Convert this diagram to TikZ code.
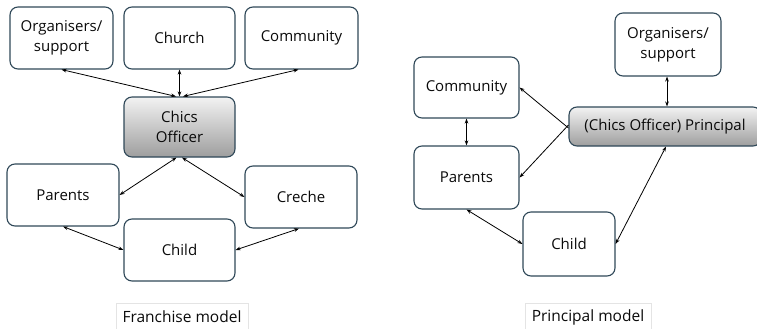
\documentclass[tikz,border=0pt]{standalone}
\usepackage{fontspec}
\setmainfont{Open Sans}
\usetikzlibrary{arrows.meta,calc}
\definecolor{boxline}{RGB}{47,72,88}
\definecolor{txt}{RGB}{10,10,10}
\definecolor{labline}{RGB}{228,228,228}
\tikzset{
  box/.style={draw=boxline, line width=1.1pt, rounded corners=8pt, align=center,
    inner sep=0pt, font=\fontsize{15}{20}\selectfont, text=txt},
  shadedbox/.style={box, top color=white!95!black, bottom color=black!38},
  lab/.style={draw=labline, line width=0.6pt, inner sep=0pt, font=\fontsize{15.5}{18}\selectfont, text=txt},
  link/.style={line width=0.8pt, {Stealth[length=5pt,width=3.6pt]}-{Stealth[length=5pt,width=3.6pt]}},
  onelink/.style={line width=0.8pt, -{Stealth[length=5pt,width=3.6pt]}}
}
\begin{document}
\begin{tikzpicture}[x=1pt,y=-1pt]
\useasboundingbox (0,0) rectangle (757,329);
\clip (0,0) rectangle (757,329);
% ---------- Franchise model ----------
\node[box, minimum width=103pt, minimum height=62pt] (org1) at (61.5,38) {Organisers/\\support};
\node[box, minimum width=111pt, minimum height=62pt] (church) at (179.5,38) {Church};
\node[box, minimum width=113pt, minimum height=62pt] (comm1) at (301.5,38) {Community};
\node[shadedbox, minimum width=111pt, minimum height=60pt] (chics) at (179.5,127) {Chics\\Officer};
\node[box, minimum width=112pt, minimum height=62pt] (par1) at (63,195) {Parents};
\node[box, minimum width=112pt, minimum height=62pt] (creche) at (301,197) {Creche};
\node[box, minimum width=111pt, minimum height=62pt] (child1) at (179.5,250) {Child};
\node[lab, minimum width=132pt, minimum height=28pt] (lab1) at (182,317) {Franchise model};

\draw[link] (org1.south) -- ([xshift=-3.5pt]chics.north);
\draw[link] (church.south) -- (chics.north);
\draw[link] ([xshift=-3pt]comm1.south) -- ([xshift=3.5pt]chics.north);
\draw[link] ([xshift=-3pt]chics.south) -- (par1.east);
\draw[link] ([xshift=2.5pt]chics.south) -- (creche.west);
\draw[link] (par1.south) -- (child1.west);
\draw[link] ([xshift=-2pt]creche.south) -- (child1.east);

% ---------- Principal model ----------
\node[box, minimum width=106pt, minimum height=63pt] (org2) at (668,44.5) {Organisers/\\support};
\node[box, minimum width=105pt, minimum height=61pt] (comm2) at (466.5,87.5) {Community};
\node[shadedbox, minimum width=192pt, minimum height=39pt] (princ) at (665,126.5) {(Chics Officer) Principal};
\node[box, minimum width=105pt, minimum height=63pt] (par2) at (466.5,177.5) {Parents};
\node[box, minimum width=92pt, minimum height=64pt] (child2) at (569,244) {Child};
\node[lab, minimum width=126pt, minimum height=28pt] (lab2) at (588,317) {Principal model};

\draw[link] ([xshift=-1pt]org2.south) -- ([xshift=-1pt]org2.south |- princ.north);
\draw[onelink] ([yshift=-1.5pt]princ.west) -- (comm2.east);
\draw[onelink] ([yshift=1.5pt]princ.west) -- (par2.east);
\draw[link] (comm2.south) -- (par2.north);
\draw[link] (par2.south) -- (child2.west);
\draw[link] ([xshift=1pt]princ.south) -- (child2.east);
\end{tikzpicture}
\end{document}
